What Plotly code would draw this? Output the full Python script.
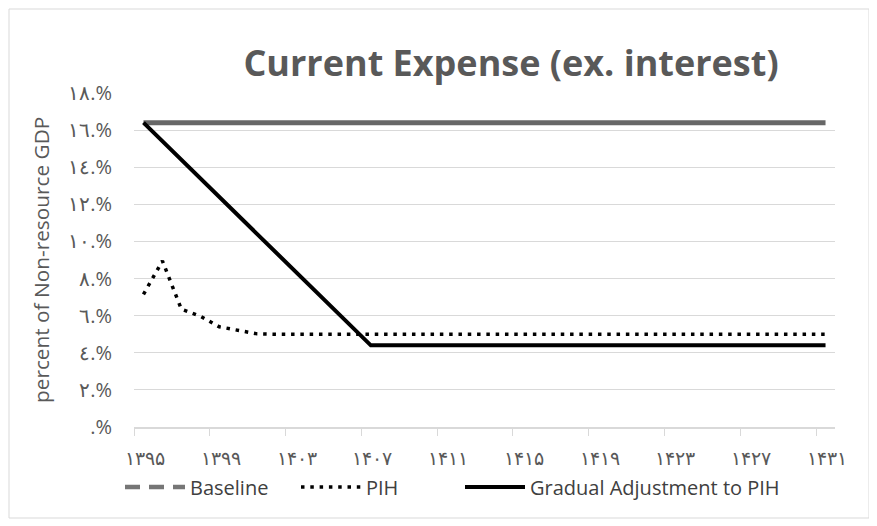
import plotly.graph_objects as go

years = [1395, 1396, 1397, 1398, 1399, 1400, 1401, 1402, 1403, 1404, 1405, 1406,
         1407, 1408, 1409, 1410, 1411, 1412, 1413, 1414, 1415, 1416, 1417, 1418,
         1419, 1420, 1421, 1422, 1423, 1424, 1425, 1426, 1427, 1428, 1429, 1430, 1431]

baseline = [16.4, 16.4, 16.4, 16.4, 16.4, 16.4, 16.4, 16.4, 16.4, 16.4, 16.4, 16.4,
            16.4, 16.4, 16.4, 16.4, 16.4, 16.4, 16.4, 16.4, 16.4, 16.4, 16.4, 16.4,
            16.4, 16.4, 16.4, 16.4, 16.4, 16.4, 16.4, 16.4, 16.4, 16.4, 16.4, 16.4, 16.4]

pih = [7.15, 8.95, 6.35, 5.97, 5.4, 5.2, 5.02, 5.0, 5.0, 5.0, 5.0, 5.0,
       5.0, 5.0, 5.0, 5.0, 5.0, 5.0, 5.0, 5.0, 5.0, 5.0, 5.0, 5.0,
       5.0, 5.0, 5.0, 5.0, 5.0, 5.0, 5.0, 5.0, 5.0, 5.0, 5.0, 5.0, 5.0]

gradual = [16.4, 15.4, 14.4, 13.4, 12.4, 11.4, 10.4, 9.4, 8.4, 7.4, 6.4, 5.4,
           4.4, 4.4, 4.4, 4.4, 4.4, 4.4, 4.4, 4.4, 4.4, 4.4, 4.4, 4.4,
           4.4, 4.4, 4.4, 4.4, 4.4, 4.4, 4.4, 4.4, 4.4, 4.4, 4.4, 4.4, 4.4]

x_tick_boundaries = [1394.5, 1398.5, 1402.5, 1406.5, 1410.5, 1414.5, 1418.5, 1422.5, 1426.5, 1430.5]
x_tick_labels = ["۱۳۹۵", "۱۳۹۹", "۱۴۰۳", "۱۴۰۷", "۱۴۱۱", "۱۴۱۵", "۱۴۱۹", "۱۴۲۳", "۱۴۲۷", "۱۴۳۱"]

y_tick_vals = [0, 2, 4, 6, 8, 10, 12, 14, 16, 18]
y_tick_labels = [".%", "٢.%", "٤.%", "٦.%", "٨.%", "١٠.%", "١٢.%", "١٤.%", "١٦.%", "١٨.%"]

series_names = ["Baseline", "PIH", "Gradual Adjustment to PIH"]

# page is offset by the 8px body margin
OFF = 8
W, H = 877 - OFF, 526 - OFF
PL, PR, PT, PB = 134, 835, 93, 427          # plot area in page pixels
L, R, T, B = PL - OFF, 877 - PR, PT - OFF, 526 - PB
pw, ph = PR - PL, PB - PT

def px2x(px):
    return (px - PL) / pw

def px2y(py):
    return (PB - py) / ph

FONT = "Open Sans"
GRAY = "#595959"

fig = go.Figure()
fig.add_trace(go.Scatter(x=years, y=baseline, mode="lines", name=series_names[0],
                         showlegend=False,
                         line=dict(color="#676767", width=5)))
fig.add_trace(go.Scatter(x=[None], y=[None], mode="lines", name=series_names[0],
                         legend="legend",
                         line=dict(color="#767676", width=4.5, dash="15px,9px")))
fig.add_trace(go.Scatter(x=years, y=pih, mode="lines", name=series_names[1],
                         legend="legend2",
                         line=dict(color="#000000", width=3.5, dash="3.5px,5.8px")))
fig.add_trace(go.Scatter(x=years, y=gradual, mode="lines", name=series_names[2],
                         legend="legend3",
                         line=dict(color="#000000", width=4)))

leg_common = dict(orientation="h", xanchor="left", yanchor="middle", y=px2y(487),
                  font=dict(family=FONT, size=20, color="#404040"), itemwidth=60,
                  bgcolor="rgba(0,0,0,0)", borderwidth=0)

fig.update_layout(
    width=W, height=H,
    margin=dict(l=L, r=R, t=T, b=B),
    paper_bgcolor="white", plot_bgcolor="white",
    font=dict(family=FONT, color=GRAY),
    title=dict(text="Current Expense (ex. interest)", x=(511 - OFF) / W, xanchor="center",
               y=1 - (63 - OFF) / H, yanchor="middle",
               font=dict(family=FONT, size=36, color=GRAY, weight="bold")),
    showlegend=True,
    legend=dict(x=px2x(120), **leg_common),
    legend2=dict(x=px2x(296), **leg_common),
    legend3=dict(x=px2x(460), **leg_common),
    xaxis=dict(range=[1394.5, 1431.5], tickmode="array", tickvals=x_tick_boundaries,
               ticktext=x_tick_labels, ticklabelshift=11, ticks="outside", ticklen=7,
               tickcolor="#d9d9d9", showgrid=False, showline=True, linecolor="#d9d9d9",
               linewidth=1.5, zeroline=False, tickfont=dict(size=19, color=GRAY),
               ticklabelstandoff=6),
    yaxis=dict(range=[0, 18], tickmode="array", tickvals=y_tick_vals, ticktext=y_tick_labels,
               showgrid=True, gridcolor="#d9d9d9", gridwidth=1, zeroline=False, showline=False,
               ticks="", tickfont=dict(size=20, color=GRAY), ticklabelstandoff=21),
    annotations=[dict(text="percent of Non-resource GDP", xref="paper", yref="paper",
                      x=px2x(41), y=0.5, xanchor="center", yanchor="middle", textangle=-90,
                      showarrow=False, font=dict(family=FONT, size=20.8, color=GRAY))],
    shapes=[dict(type="rect", xref="paper", yref="paper", x0=px2x(9), x1=px2x(869),
                 y0=px2y(518), y1=px2y(9), line=dict(color="#d9d9d9", width=1),
                 fillcolor="rgba(0,0,0,0)", layer="below")],
)

fig.write_html("out.html")
